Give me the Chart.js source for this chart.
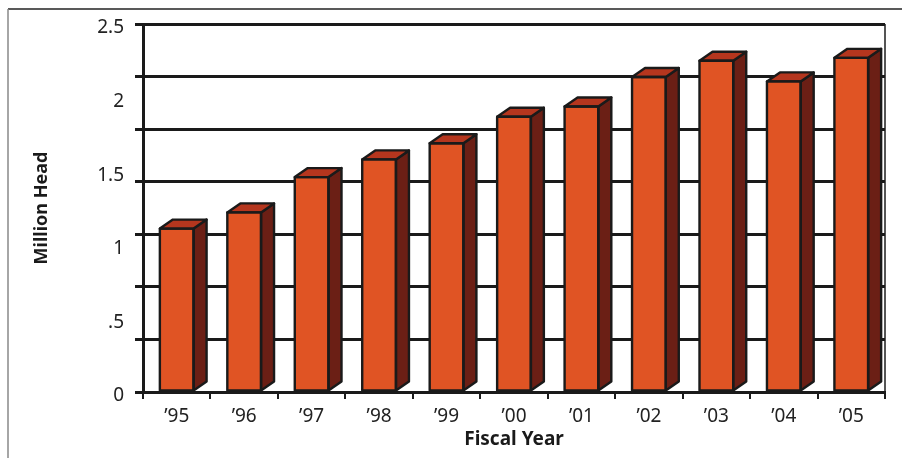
<!DOCTYPE html>
<html lang="en">
<head>
<meta charset="UTF-8">
<script src="https://cdn.jsdelivr.net/npm/chart.js"></script>
<title>Million Head by Fiscal Year</title>
<style>
    * { margin: 0; padding: 0; }
    body { background: #fff; }
    .contenedor { width: 902px; height: 458px; position: relative; }
</style>
</head>
<body>
<div class="contenedor">
    <canvas id="myChart"></canvas>
</div>
<script>
    // data
    const years = ['\u201995', '\u201996', '\u201997', '\u201998', '\u201999', '\u201900', '\u201901', '\u201902', '\u201903', '\u201904', '\u201905'];
    const millionHead = [1.11, 1.22, 1.46, 1.58, 1.69, 1.87, 1.94, 2.14, 2.25, 2.11, 2.27];
    const labelTicks = [0, 0.5, 1, 1.5, 2, 2.5];
    const gridSteps = 7; // the back wall has 7 grid bands between 0 and 2.5

    const FRONT = '#E05424';
    const SIDE = '#6B1F15';
    const TOP = '#B5361E';
    const EDGE = '#1a1a1a';
    const DX = 13, DY = -9;

    // side and top faces for the fake 3D look, built from the bar elements
    const bars3d = {
        id: 'bars3d',
        afterDatasetsDraw(chart) {
            const c = chart.ctx;
            const meta = chart.getDatasetMeta(0);
            c.save();
            c.lineWidth = 2.4;
            c.lineJoin = 'round';
            c.strokeStyle = EDGE;
            meta.data.forEach(bar => {
                const p = bar.getProps(['x', 'y', 'base', 'width'], true);
                const l = p.x - p.width / 2;
                const r = p.x + p.width / 2;
                // side
                c.beginPath();
                c.moveTo(r, p.y);
                c.lineTo(r + DX, p.y + DY);
                c.lineTo(r + DX, p.base + DY);
                c.lineTo(r, p.base);
                c.closePath();
                c.fillStyle = SIDE;
                c.fill();
                c.stroke();
                // top
                c.beginPath();
                c.moveTo(l, p.y);
                c.lineTo(l + DX, p.y + DY);
                c.lineTo(r + DX, p.y + DY);
                c.lineTo(r, p.y);
                c.closePath();
                c.fillStyle = TOP;
                c.fill();
                c.stroke();
                // redraw front outline so it stays crisp
                c.strokeRect(l, p.y, p.width, p.base - p.y);
            });
            c.restore();
        }
    };

    // outer frame + right wall line
    const frame = {
        id: 'frame',
        beforeDraw(chart) {
            const c = chart.ctx;
            const a = chart.chartArea;
            c.save();
            c.fillStyle = '#fff';
            c.fillRect(0, 0, chart.width, chart.height);
            c.strokeStyle = '#222';
            c.lineWidth = 1.5;
            c.beginPath();
            c.moveTo(8, 9);
            c.lineTo(chart.width, 9);
            c.stroke();
            c.strokeStyle = '#888';
            c.beginPath();
            c.moveTo(8, 9);
            c.lineTo(8, chart.height);
            c.stroke();
            c.strokeStyle = '#555';
            c.lineWidth = 2;
            c.beginPath();
            c.moveTo(a.right, a.top);
            c.lineTo(a.right, a.bottom);
            c.stroke();
            c.restore();
        }
    };

    const ctx = document.getElementById('myChart').getContext('2d');
    new Chart(ctx, {
        type: 'bar',
        data: {
            labels: years,
            datasets: [{
                data: millionHead,
                backgroundColor: FRONT,
                borderColor: EDGE,
                borderWidth: 0,
                categoryPercentage: 1,
                barPercentage: 0.5
            }]
        },
        options: {
            responsive: true,
            maintainAspectRatio: false,
            animation: false,
            layout: { padding: { top: 24, right: 17, left: 0, bottom: 0 } },
            plugins: {
                legend: { display: false },
                tooltip: { enabled: false }
            },
            scales: {
                x: {
                    offset: true,
                    grid: {
                        offset: true,
                        drawOnChartArea: false,
                        drawTicks: true,
                        tickLength: 7,
                        color: EDGE,
                        lineWidth: 2
                    },
                    border: { display: true, color: EDGE, width: 3 },
                    ticks: {
                        color: '#222',
                        padding: 6,
                        font: { family: 'Noto Sans', size: 19 }
                    },
                    title: {
                        display: true,
                        text: 'Fiscal Year',
                        color: '#1a1a1a',
                        font: { family: 'Noto Sans', size: 19, weight: 'bold' },
                        padding: { top: 0, bottom: 7 }
                    },
                    afterFit: s => { s.height = 66; }
                },
                y: {
                    position: 'left',
                    weight: 0,
                    min: 0,
                    max: 2.5,
                    afterBuildTicks: s => {
                        s.ticks = [];
                        for (let i = 0; i <= gridSteps; i++) s.ticks.push({ value: 2.5 * i / gridSteps });
                    },
                    grid: { color: EDGE, lineWidth: 3, tickLength: 8 },
                    border: { display: true, color: EDGE, width: 3 },
                    ticks: { display: false },
                    afterFit: s => { s.width = 8; }
                },
                y2: {
                    position: 'left',
                    weight: 1,
                    min: 0,
                    max: 2.5,
                    afterBuildTicks: s => { s.ticks = labelTicks.map(v => ({ value: v })); },
                    grid: { display: false, drawTicks: false },
                    border: { display: false },
                    ticks: {
                        color: '#222',
                        padding: 11,
                        labelOffset: 4,
                        font: { family: 'Noto Sans', size: 19 },
                        callback: v => v === 0 ? '0' : String(v).replace(/^0\./, '.')
                    },
                    title: {
                        display: true,
                        text: 'Million Head',
                        color: '#1a1a1a',
                        font: { family: 'Noto Sans', size: 18, weight: 'bold' },
                        padding: { top: 31, bottom: 0 }
                    },
                    afterFit: s => { s.width = 135; }
                }
            }
        },
        plugins: [frame, bars3d]
    });
</script>
</body>
</html>
